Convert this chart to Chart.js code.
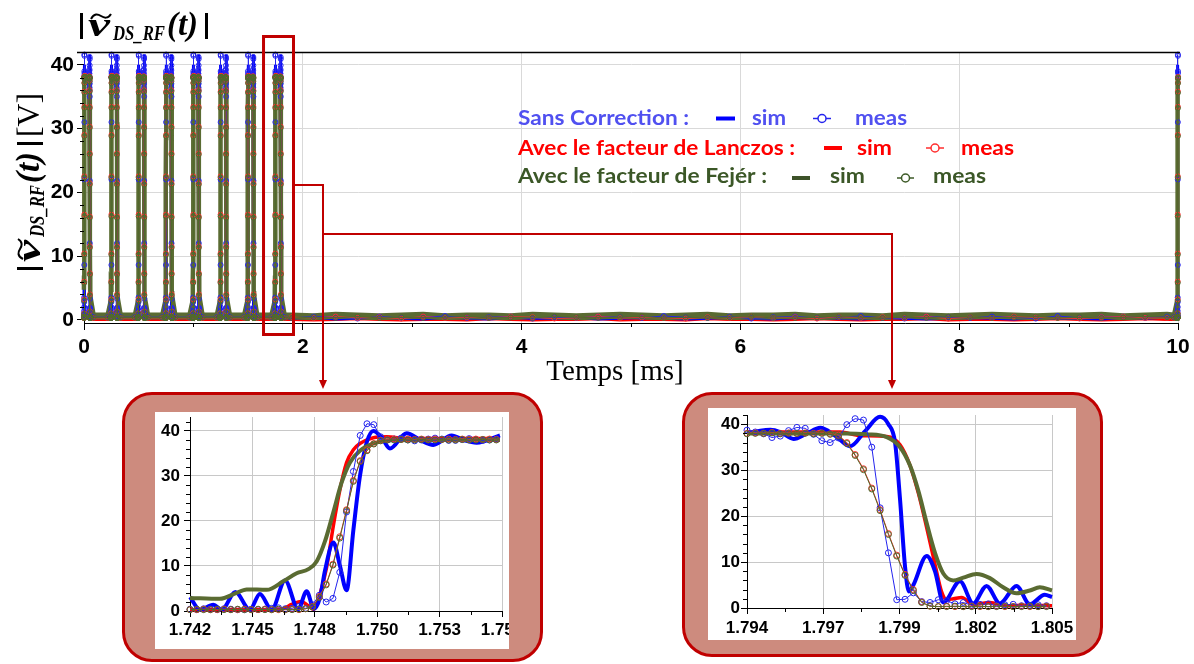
<!DOCTYPE html>
<html>
<head>
<meta charset="utf-8">
<script src="https://cdn.jsdelivr.net/npm/chart.js@4.4.1/dist/chart.umd.min.js"></script>
<style>
body { margin: 0; background: #fff; width: 1194px; height: 664px; overflow: hidden; position: relative; }
#main { position: absolute; left: 0; top: 0; }
.box { position: absolute; box-sizing: border-box; border: 3px solid #c00000; border-radius: 30px; background: #cd8b7e; }
.panel { position: absolute; overflow: hidden; background: #fff; }
.panel canvas { position: absolute; left: 0; top: 0; }
</style>
</head>
<body>
<canvas id="main" width="1194" height="392"></canvas>
<div class="box" style="left:122px;top:392px;width:421px;height:270px"></div>
<div class="box" style="left:682px;top:392px;width:421px;height:265px"></div>
<div class="panel" style="left:155px;top:412px;width:354px;height:237px"><canvas id="zoomRise" width="385" height="237"></canvas></div>
<div class="panel" style="left:708px;top:408px;width:368px;height:232px"><canvas id="zoomFall" width="368" height="232"></canvas></div>
<script>
// ---- impulsions (ms) ----
const pulseStarts = [0.002, 0.250, 0.499, 0.749, 0.998, 1.248, 1.498, 1.748];
const finalRise = 9.9975;
const pulseRef = 1.748;
const gapOffset = 0.03;

// ---- front montant (zoom gauche) ----
const riseSimBlueT = [1.7420, 1.74244, 1.74303, 1.7434, 1.7440, 1.74464, 1.74508, 1.7456, 1.74619, 1.74677, 1.74714, 1.74746, 1.74773, 1.74795, 1.74832, 1.74861, 1.7489, 1.7492, 1.74949, 1.74979, 1.75008, 1.75045, 1.75081, 1.75155, 1.75214, 1.75272, 1.75353, 1.75405, 1.75463, 1.75566];
const riseSimBlue = [3.1, 0.3, 1.4, 0.3, 4.2, 0.3, 3.8, 0.3, 6.8, 0.4, 4.4, 0.5, 3.0, 9.0, 15.2, 10.0, 4.6, 18.0, 30.0, 37.5, 40.0, 38.5, 36.1, 39.5, 38.0, 36.9, 39.0, 38.0, 37.4, 39.0];
const riseSimRedT = [1.7420, 1.7440, 1.7460, 1.7465, 1.7469, 1.7472, 1.74745, 1.74773, 1.74802, 1.74832, 1.74861, 1.7489, 1.7492, 1.74949, 1.75008, 1.75067, 1.75155, 1.75566];
const riseSimRed = [0.3, 0.3, 0.4, 1.5, 2.1, 1.2, 0.4, 3.8, 9.7, 19.0, 27.0, 33.0, 35.8, 37.2, 38.5, 38.7, 38.3, 38.3];
const riseSimGreenT = [1.7420, 1.74332, 1.7440, 1.7445, 1.74538, 1.74611, 1.7467, 1.74722, 1.74758, 1.74795, 1.74832, 1.74868, 1.74905, 1.74949, 1.75008, 1.75067, 1.75214, 1.75566];
const riseSimGreen = [2.9, 2.7, 3.9, 4.8, 4.7, 6.6, 8.4, 9.3, 11.0, 15.5, 22.0, 28.5, 33.0, 35.6, 37.2, 37.9, 38.0, 38.0];
const riseMeasT = [1.7420, 1.7423, 1.7426, 1.7429, 1.7432, 1.7435, 1.7438, 1.7441, 1.7444, 1.7447, 1.7450, 1.7453, 1.7456, 1.7459, 1.7462, 1.7465, 1.7468, 1.7471, 1.7474, 1.7477, 1.7480, 1.7483, 1.7486, 1.7489, 1.7492, 1.7495, 1.7498, 1.7501, 1.7504, 1.7507, 1.7510, 1.7513, 1.7516, 1.7519, 1.7522, 1.7525, 1.7528, 1.7531, 1.7534, 1.7537, 1.7540, 1.7543, 1.7546, 1.7549, 1.7552, 1.7555];
const riseMeasBlue = [0.4, 0.3, 0.5, 0.4, 0.3, 0.5, 0.4, 0.3, 0.3, 0.4, 0.3, 0.4, 0.6, 0.7, 0.5, 0.6, 1.0, 0.6, 1.4, 3.5, 2.0, 2.8, 8.6, 22.0, 31.0, 39.0, 41.6, 41.4, 38.7, 38.0, 38.2, 38.4, 38.0, 37.8, 38.0, 38.2, 38.4, 38.2, 37.9, 37.9, 38.1, 38.3, 38.1, 37.9, 38.0, 38.2];
const riseMeasRed = [0.3, 0.3, 0.4, 0.3, 0.3, 0.4, 0.3, 0.3, 0.4, 0.3, 0.3, 0.4, 0.3, 0.3, 0.3, 0.4, 0.3, 0.5, 1.0, 3.2, 6.0, 10.4, 16.5, 22.5, 29.0, 33.4, 35.8, 37.2, 37.9, 38.1, 38.2, 38.1, 38.2, 38.1, 38.2, 38.1, 38.2, 38.1, 38.2, 38.1, 38.2, 38.1, 38.2, 38.1, 38.2, 38.1];
const riseMeasGreen = [0.3, 0.4, 0.3, 0.3, 0.4, 0.3, 0.3, 0.4, 0.3, 0.3, 0.4, 0.3, 0.3, 0.4, 0.3, 0.3, 0.4, 0.5, 0.9, 3.0, 5.8, 10.2, 16.2, 22.3, 28.8, 33.2, 35.6, 37.1, 37.8, 38.0, 38.0, 38.1, 38.0, 38.0, 38.1, 38.0, 38.0, 38.1, 38.0, 38.0, 38.1, 38.0, 38.0, 38.1, 38.0, 38.0];

// ---- front descendant (zoom droit) ----
const fallSimBlueT = [1.7940, 1.79448, 1.79484, 1.7952, 1.79568, 1.79616, 1.79664, 1.79718, 1.79772, 1.79826, 1.7988, 1.7991, 1.79934, 1.79952, 1.7997, 1.79984, 1.8000, 1.80048, 1.80078, 1.80108, 1.80168, 1.80216, 1.80264, 1.80312, 1.80372, 1.8042, 1.80474, 1.8050];
const fallSimBlue = [38.0, 38.6, 38.8, 38.3, 36.8, 38.0, 39.2, 37.5, 35.2, 38.5, 41.6, 40.0, 36.0, 23.6, 9.0, 3.6, 5.0, 11.3, 8.0, 1.2, 5.8, 1.0, 4.8, 1.0, 4.8, 0.8, 2.9, 2.4];
const fallSimRedT = [1.7940, 1.79736, 1.79808, 1.79904, 1.79952, 1.79988, 1.80018, 1.80048, 1.80078, 1.80102, 1.8012, 1.80144, 1.80174, 1.80216, 1.80276, 1.80336, 1.80408, 1.8050];
const fallSimRed = [38.3, 38.3, 37.5, 37.3, 35.5, 31.0, 25.0, 17.5, 9.5, 3.5, 1.8, 2.0, 2.3, 0.8, 1.2, 0.5, 0.6, 0.5];
const fallSimGreenT = [1.7940, 1.7976, 1.79832, 1.79904, 1.79952, 1.79988, 1.80018, 1.80048, 1.80078, 1.80108, 1.80144, 1.8018, 1.80228, 1.80276, 1.80324, 1.80372, 1.8042, 1.80456, 1.8050];
const fallSimGreen = [38.0, 38.0, 37.8, 37.2, 35.0, 31.0, 25.5, 18.5, 12.0, 7.5, 6.0, 6.6, 7.4, 6.5, 4.5, 3.2, 3.8, 4.5, 3.8];
const fallMeasT = [1.7940, 1.7943, 1.7946, 1.7949, 1.7952, 1.7955, 1.7958, 1.7961, 1.7964, 1.7967, 1.7970, 1.7973, 1.7976, 1.7979, 1.7982, 1.7985, 1.7988, 1.7991, 1.7994, 1.7997, 1.8000, 1.8003, 1.8006, 1.8009, 1.8012, 1.8015, 1.8018, 1.8021, 1.8024, 1.8027, 1.8030, 1.8033, 1.8036, 1.8039, 1.8042, 1.8045, 1.8048];
const fallMeasBlue = [38.7, 38.3, 37.9, 37.1, 37.4, 38.6, 39.3, 39.1, 37.8, 36.4, 36.0, 37.0, 39.9, 41.2, 40.9, 35.0, 21.8, 12.0, 1.8, 1.9, 3.3, 1.4, 1.2, 1.8, 1.6, 0.9, 1.2, 0.6, 0.8, 0.9, 0.5, 0.7, 0.8, 0.5, 0.6, 0.7, 0.5];
const fallMeasRed = [38.0, 38.1, 38.0, 38.2, 38.0, 38.1, 38.0, 38.1, 38.0, 38.1, 37.9, 37.6, 36.0, 33.4, 30.3, 26.1, 21.4, 16.2, 11.5, 7.3, 4.0, 1.3, 0.4, 0.3, 0.4, 0.3, 0.3, 0.4, 0.3, 0.3, 0.4, 0.3, 0.3, 0.4, 0.3, 0.3, 0.4];
const fallMeasGreen = [37.9, 38.0, 38.0, 38.1, 37.9, 38.0, 38.0, 38.0, 37.9, 38.0, 37.8, 37.4, 35.8, 33.2, 30.1, 25.9, 21.2, 16.0, 11.3, 7.1, 3.8, 1.2, 0.4, 0.3, 0.3, 0.4, 0.3, 0.3, 0.4, 0.3, 0.3, 0.4, 0.3, 0.3, 0.4, 0.3, 0.3];

// ---- niveau de base apres la derniere impulsion (pas 0.2 ms) ----
const baselineT = [1.90, 2.10, 2.30, 2.50, 2.70, 2.90, 3.10, 3.30, 3.50, 3.70, 3.90, 4.10, 4.30, 4.50, 4.70, 4.90, 5.10, 5.30, 5.50, 5.70, 5.90, 6.10, 6.30, 6.50, 6.70, 6.90, 7.10, 7.30, 7.50, 7.70, 7.90, 8.10, 8.30, 8.50, 8.70, 8.90, 9.10, 9.30, 9.50, 9.70, 9.90];
const baseSimBlue = [0.4, 0.5, 0.3, 0.4, 0.5, 0.4, 0.3, 0.5, 0.4, 0.3, 0.5, 0.4, 0.4, 0.5, 0.3, 0.4, 0.5, 0.4, 0.3, 0.4, 0.5, 0.4, 0.3, 0.5, 0.4, 0.4, 0.3, 0.5, 0.4, 0.3, 0.4, 0.5, 0.4, 0.3, 0.5, 0.4, 0.4, 0.3, 0.5, 0.4, 0.6];
const baseSimRed = [0.3, 0.2, 0.3, 0.4, 0.3, 0.2, 0.3, 0.3, 0.2, 0.4, 0.3, 0.2, 0.3, 0.3, 0.4, 0.2, 0.3, 0.3, 0.2, 0.4, 0.3, 0.3, 0.2, 0.3, 0.4, 0.3, 0.2, 0.3, 0.3, 0.4, 0.2, 0.3, 0.3, 0.2, 0.3, 0.4, 0.3, 0.2, 0.3, 0.4, 0.3];
const baseSimGreen = [0.6, 0.5, 0.7, 0.6, 0.5, 0.6, 0.7, 0.5, 0.6, 0.6, 0.5, 0.7, 0.6, 0.5, 0.6, 0.7, 0.6, 0.5, 0.6, 0.7, 0.5, 0.6, 0.6, 0.7, 0.5, 0.6, 0.6, 0.5, 0.7, 0.6, 0.5, 0.6, 0.7, 0.6, 0.5, 0.6, 0.6, 0.7, 0.5, 0.6, 0.7];
const baseMeasBlue = [0.3, 0.5, 0.4, 0.2, 0.5, 0.3, 0.4, 0.6, 0.3, 0.4, 0.5, 0.2, 0.4, 0.3, 0.5, 0.4, 0.3, 0.6, 0.4, 0.3, 0.5, 0.2, 0.4, 0.5, 0.3, 0.4, 0.6, 0.3, 0.2, 0.5, 0.4, 0.3, 0.5, 0.4, 0.2, 0.6, 0.3, 0.4, 0.5, 0.3, 0.5];
const baseMeasRed = [0.4, 0.3, 0.5, 0.3, 0.4, 0.2, 0.5, 0.3, 0.4, 0.3, 0.5, 0.4, 0.2, 0.3, 0.5, 0.3, 0.4, 0.3, 0.2, 0.4, 0.3, 0.5, 0.3, 0.4, 0.2, 0.5, 0.3, 0.4, 0.3, 0.5, 0.2, 0.4, 0.3, 0.5, 0.4, 0.3, 0.2, 0.4, 0.5, 0.3, 0.3];
const baseMeasGreen = [0.3, 0.4, 0.3, 0.5, 0.3, 0.4, 0.3, 0.4, 0.5, 0.3, 0.4, 0.3, 0.5, 0.4, 0.3, 0.4, 0.5, 0.3, 0.4, 0.3, 0.4, 0.5, 0.3, 0.3, 0.4, 0.5, 0.4, 0.3, 0.4, 0.3, 0.5, 0.4, 0.3, 0.4, 0.5, 0.3, 0.4, 0.3, 0.4, 0.5, 0.4];
const gapSimBlue = 0.5, gapSimRed = 0.3, gapSimGreen = 0.6;
const gapMeasBlue = 0.4, gapMeasRed = 0.3, gapMeasGreen = 0.35;

// ---- axes ----
const mainXTicks = [0, 2, 4, 6, 8, 10];
const mainXMinor = [1, 3, 5, 7, 9];
const mainYTicks = [0, 10, 20, 30, 40];
const mainYMinor = [2, 4, 6, 8, 12, 14, 16, 18, 22, 24, 26, 28, 32, 34, 36, 38];
const riseXTicks = [1.742, 1.74475, 1.7475, 1.75025, 1.753, 1.75575];
const riseXLabels = ['1.742', '1.745', '1.748', '1.750', '1.753', '1.756'];
const riseXMinor = [1.743375, 1.746125, 1.748875, 1.751625, 1.754375];
const fallXTicks = [1.794, 1.79675, 1.7995, 1.80225, 1.805];
const fallXLabels = ['1.794', '1.797', '1.799', '1.802', '1.805'];
const fallXMinor = [1.795375, 1.798125, 1.800875, 1.803625];
const zoomYTicks = [0, 10, 20, 30, 40];
const zoomYMinor = [2, 4, 6, 8, 12, 14, 16, 18, 22, 24, 26, 28, 32, 34, 36, 38, 42];

const legendLabels = ['Sans Correction :', 'Avec le facteur de Lanczos :', 'Avec le facteur de Fejér :'];

const BLUE = '#0000ff', RED = '#ff0000', GREEN = '#5a6b32';
const M_BLUE = '#2424ee', M_RED = '#ff2e2e', M_GREEN = '#4f6a2c';

function pts(ts, vs, dt) {
    dt = dt || 0;
    return ts.map((t, i) => ({ x: t + dt, y: vs[i] }));
}

// assemble la trace complete a partir des deux fronts lus dans les zooms
function buildTrace(rT, rV, fT, fV, gap, baseV) {
    let out = [];
    pulseStarts.forEach((s, i) => {
        const dt = s - pulseRef;
        if (i > 0) out.push({ x: rT[0] + dt - gapOffset, y: gap });
        out = out.concat(pts(rT, rV, dt), pts(fT, fV, dt));
        out.push({ x: fT[fT.length - 1] + dt + gapOffset, y: gap });
    });
    out = out.concat(pts(baselineT, baseV));
    const dt = finalRise - pulseRef;
    out.push({ x: rT[0] + dt - gapOffset, y: gap });
    return out.concat(pts(rT, rV, dt));
}

// trait plus epais sur les longs segments du niveau de base (graphe principal)
function bandWidth(thin, thick) {
    return c => (c.p0.parsed.y < 1.5 && c.p1.parsed.y < 1.5 && c.p1.parsed.x - c.p0.parsed.x > 0.01) ? thick : thin;
}

function simSet(data, color, width, smooth, band) {
    const ds = { data, borderColor: color, borderWidth: width, pointRadius: 0, cubicInterpolationMode: smooth ? 'monotone' : 'default', clip: 6 };
    if (band) ds.segment = { borderWidth: bandWidth(width, band) };
    return ds;
}
function measSet(data, color, r) {
    return { data, borderColor: color, borderWidth: 1, pointRadius: r, pointBorderColor: color, pointBorderWidth: 1, pointBackgroundColor: 'rgba(255,255,255,0)', clip: 6 };
}

function drawFit(ctx, text, x, y, w, font, color) {
    ctx.save();
    ctx.font = font;
    ctx.fillStyle = color || '#000';
    ctx.textAlign = 'left';
    ctx.textBaseline = 'alphabetic';
    const m = ctx.measureText(text).width;
    ctx.translate(x, y);
    ctx.scale(w / m, 1);
    ctx.fillText(text, 0, 0);
    ctx.restore();
}

// |v~ DS_RF (t)|  (+ [V])
function drawMathLabel(ctx, ox, oy, unit) {
    const big = 'bold italic 33px "Liberation Serif"';
    ctx.save();
    ctx.translate(ox, oy);
    ctx.fillStyle = '#000';
    ctx.fillRect(0, -23, 3, 26);
    drawFit(ctx, 'v', 8, 0, 22, big);
    ctx.strokeStyle = '#000';
    ctx.lineWidth = 2;
    ctx.beginPath();
    ctx.moveTo(11, -17);
    ctx.bezierCurveTo(14, -23, 18, -22, 21, -20);
    ctx.bezierCurveTo(24, -18, 28, -17, 31, -22);
    ctx.stroke();
    drawFit(ctx, 'DS_RF', 33, 4, 52, 'bold italic 20px "Liberation Serif"');
    drawFit(ctx, '(t)', 87, -1, 31, big);
    ctx.fillRect(125, -23, 3, 26);
    if (unit) drawFit(ctx, '[V]', 133, -1, 44, '31px "Liberation Serif"');
    ctx.restore();
}

const legendRows = [
    { text: '#5050f0', line: BLUE, mark: M_BLUE, y: 125, ly: 118.5, t: [518, 689], d: [716, 735], s: [752, 786], m: [813, 831], q: [855, 907] },
    { text: '#ff0000', line: RED, mark: M_RED, y: 154.5, ly: 148, t: [518, 795], d: [824, 842], s: [857, 892], m: [926, 944], q: [961, 1014] },
    { text: '#3b5727', line: '#3d5229', mark: '#3d5a27', y: 183, ly: 178, t: [518, 767], d: [792, 810], s: [830, 865], m: [897, 914], q: [933, 986] }
];

function drawMainExtras(chart) {
    const ctx = chart.ctx, a = chart.chartArea, sx = chart.scales.x;
    ctx.save();
    ctx.strokeStyle = '#000';
    ctx.lineWidth = 1.3;
    ctx.beginPath();
    ctx.moveTo(77, Math.round(a.top) + 0.5);
    ctx.lineTo(a.right + 2, Math.round(a.top) + 0.5);
    ctx.stroke();
    ctx.restore();

    drawMathLabel(ctx, 80, 36, false);
    ctx.save();
    ctx.translate(40, 270);
    ctx.rotate(-Math.PI / 2);
    drawMathLabel(ctx, 0, 0, true);
    ctx.restore();

    ctx.save();
    ctx.font = '29px "Liberation Serif"';
    ctx.fillStyle = '#000';
    ctx.textAlign = 'center';
    ctx.fillText('Temps [ms]', 615, 380);
    ctx.restore();

    const lf = 'bold 21px Lato, "Open Sans", sans-serif';
    legendRows.forEach((r, i) => {
        drawFit(ctx, legendLabels[i], r.t[0], r.y, r.t[1] - r.t[0], lf, r.text);
        drawFit(ctx, 'sim', r.s[0], r.y, r.s[1] - r.s[0], lf, r.text);
        drawFit(ctx, 'meas', r.q[0], r.y, r.q[1] - r.q[0], lf, r.text);
        ctx.save();
        ctx.fillStyle = r.line;
        ctx.fillRect(r.d[0], r.ly - 2, r.d[1] - r.d[0], 4);
        ctx.strokeStyle = r.mark;
        ctx.lineWidth = 1.5;
        ctx.beginPath();
        ctx.moveTo(r.m[0], r.ly);
        ctx.lineTo(r.m[1], r.ly);
        ctx.stroke();
        ctx.fillStyle = '#fff';
        ctx.beginPath();
        ctx.arc((r.m[0] + r.m[1]) / 2, r.ly, 4, 0, Math.PI * 2);
        ctx.fill();
        ctx.stroke();
        ctx.restore();
    });

    // cadre de zoom et renvois vers les encarts
    const bx0 = sx.getPixelForValue(1.641), bx1 = sx.getPixelForValue(1.915);
    ctx.save();
    ctx.strokeStyle = '#c00000';
    ctx.lineWidth = 3;
    ctx.strokeRect(bx0, 36.5, bx1 - bx0, 298);
    ctx.lineWidth = 2;
    ctx.beginPath();
    ctx.moveTo(bx1 + 1, 185);
    ctx.lineTo(323, 185);
    ctx.lineTo(323, 381);
    ctx.moveTo(323, 234);
    ctx.lineTo(892, 234);
    ctx.lineTo(892, 381);
    ctx.stroke();
    ctx.fillStyle = '#c00000';
    [323, 892].forEach(x => {
        ctx.beginPath();
        ctx.moveTo(x - 4, 380);
        ctx.lineTo(x + 4, 380);
        ctx.lineTo(x, 389);
        ctx.closePath();
        ctx.fill();
    });
    ctx.restore();
}

function decoPlugin(xMinor, yMinor, len, extra) {
    return {
        id: 'deco',
        afterDraw(chart) {
            const ctx = chart.ctx, a = chart.chartArea, sx = chart.scales.x, sy = chart.scales.y;
            ctx.save();
            ctx.strokeStyle = '#000';
            ctx.lineWidth = 1;
            ctx.beginPath();
            xMinor.forEach(v => {
                const p = Math.round(sx.getPixelForValue(v)) + 0.5;
                ctx.moveTo(p, a.bottom);
                ctx.lineTo(p, a.bottom + len);
            });
            yMinor.forEach(v => {
                const p = Math.round(sy.getPixelForValue(v)) + 0.5;
                ctx.moveTo(a.left, p);
                ctx.lineTo(a.left - len, p);
            });
            ctx.stroke();
            ctx.restore();
            if (extra) extra(chart);
        }
    };
}

function makeChart(id, datasets, o) {
    return new Chart(document.getElementById(id), {
        type: 'line',
        data: { datasets },
        options: {
            animation: false,
            responsive: false,
            events: [],
            layout: { padding: o.pad },
            plugins: { legend: { display: false }, tooltip: { enabled: false } },
            scales: {
                x: {
                    type: 'linear', min: o.xMin, max: o.xMax,
                    afterBuildTicks: s => { s.ticks = o.xTicks.map(v => ({ value: v })); },
                    afterFit: s => { s.height = o.xH; s.paddingLeft = 0; s.paddingRight = 0; },
                    ticks: { autoSkip: false, maxRotation: 0, color: '#000', font: o.font, padding: o.xPad, callback: (v, i) => o.xLabels[i] },
                    grid: { color: o.grid, tickColor: '#000', tickLength: o.tick },
                    border: { color: '#000', width: 1 }
                },
                y: {
                    type: 'linear', min: o.yMin, max: o.yMax,
                    afterBuildTicks: s => { s.ticks = o.yTicks.map(v => ({ value: v })); },
                    afterFit: s => { s.width = o.yW; s.paddingTop = 0; s.paddingBottom = 0; },
                    ticks: { autoSkip: false, color: '#000', font: o.font, padding: o.yPad, callback: v => String(v) },
                    grid: { color: o.grid, tickColor: '#000', tickLength: o.tick },
                    border: { color: '#000', width: 1 }
                }
            }
        },
        plugins: [decoPlugin(o.xMinor, o.yMinor, o.minorLen, o.extra)]
    });
}

// ---- graphe principal ----
makeChart('main', [
    measSet(buildTrace(riseMeasT, riseMeasGreen, fallMeasT, fallMeasGreen, gapMeasGreen, baseMeasGreen), M_GREEN, 2.5),
    measSet(buildTrace(riseMeasT, riseMeasRed, fallMeasT, fallMeasRed, gapMeasRed, baseMeasRed), M_RED, 2.5),
    measSet(buildTrace(riseMeasT, riseMeasBlue, fallMeasT, fallMeasBlue, gapMeasBlue, baseMeasBlue), M_BLUE, 2.5),
    simSet(buildTrace(riseSimGreenT, riseSimGreen, fallSimGreenT, fallSimGreen, gapSimGreen, baseSimGreen), GREEN, 4.5, false, 7),
    simSet(buildTrace(riseSimBlueT, riseSimBlue, fallSimBlueT, fallSimBlue, gapSimBlue, baseSimBlue), BLUE, 3, false, 5),
    simSet(buildTrace(riseSimRedT, riseSimRed, fallSimRedT, fallSimRed, gapSimRed, baseSimRed), RED, 2.5, false, 6)
], {
    pad: { left: 0, top: 52, right: 16, bottom: 0 },
    xMin: 0, xMax: 10, yMin: -0.5, yMax: 42,
    xTicks: mainXTicks, xLabels: mainXTicks.map(String), yTicks: mainYTicks,
    xMinor: mainXMinor, yMinor: mainYMinor,
    xH: 392 - 323, yW: 84, tick: 7, minorLen: 4, xPad: 5, yPad: 3,
    grid: '#d9d9d9',
    font: { family: '"Liberation Sans Narrow", "Liberation Sans", sans-serif', weight: 'bold', size: 21 },
    extra: drawMainExtras
});

// ---- zoom front montant ----
makeChart('zoomRise', [
    measSet(pts(riseMeasT, riseMeasGreen), M_GREEN, 3),
    measSet(pts(riseMeasT, riseMeasRed), M_RED, 3),
    measSet(pts(riseMeasT, riseMeasBlue), M_BLUE, 3),
    simSet(pts(riseSimGreenT, riseSimGreen), GREEN, 4, true),
    simSet(pts(riseSimBlueT, riseSimBlue), BLUE, 4, true),
    simSet(pts(riseSimRedT, riseSimRed), RED, 3.5, true)
], {
    pad: { left: 0, top: 1, right: 38, bottom: 0 },
    xMin: 1.742, xMax: 1.75575, yMin: 0, yMax: 43.1,
    xTicks: riseXTicks, xLabels: riseXLabels, yTicks: zoomYTicks,
    xMinor: riseXMinor, yMinor: zoomYMinor,
    xH: 38, yW: 35, tick: 6, minorLen: 4, xPad: 3, yPad: 4,
    grid: '#c8c8c8',
    font: { family: '"Liberation Sans", Arial, sans-serif', weight: 'bold', size: 17 }
});

// ---- zoom front descendant ----
makeChart('zoomFall', [
    measSet(pts(fallMeasT, fallMeasGreen), M_GREEN, 3),
    measSet(pts(fallMeasT, fallMeasRed), M_RED, 3),
    measSet(pts(fallMeasT, fallMeasBlue), M_BLUE, 3),
    simSet(pts(fallSimGreenT, fallSimGreen), GREEN, 4, true),
    simSet(pts(fallSimBlueT, fallSimBlue), BLUE, 4, true),
    simSet(pts(fallSimRedT, fallSimRed), RED, 3.5, true)
], {
    pad: { left: 0, top: 7, right: 24, bottom: 0 },
    xMin: 1.794, xMax: 1.805, yMin: 0, yMax: 42,
    xTicks: fallXTicks, xLabels: fallXLabels, yTicks: zoomYTicks,
    xMinor: fallXMinor, yMinor: zoomYMinor,
    xH: 32, yW: 39, tick: 6, minorLen: 4, xPad: 4, yPad: 1,
    grid: '#c8c8c8',
    font: { family: '"Liberation Sans", Arial, sans-serif', weight: 'bold', size: 17 }
});
</script>
</body>
</html>
